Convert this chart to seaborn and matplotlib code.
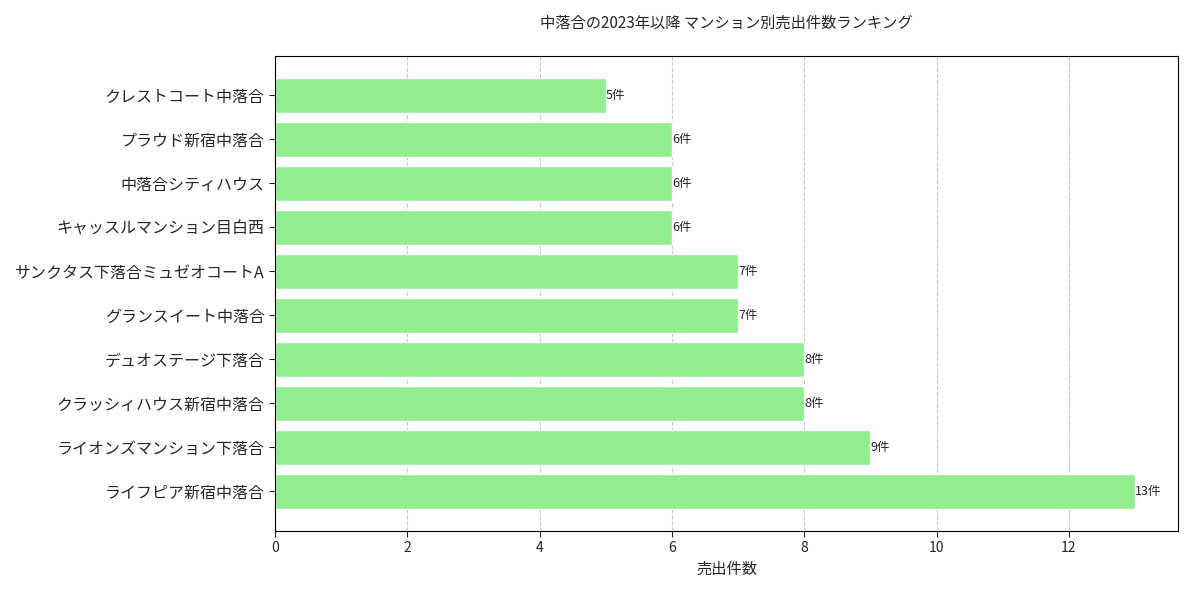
import matplotlib
matplotlib.use("Agg")
import matplotlib.pyplot as plt
import seaborn as sns
import pandas as pd

names = ["クレストコート中落合", "プラウド新宿中落合", "中落合シティハウス", "キャッスルマンション目白西",
         "サンクタス下落合ミュゼオコートA", "グランスイート中落合", "デュオステージ下落合",
         "クラッシィハウス新宿中落合", "ライオンズマンション下落合", "ライフピア新宿中落合"]
counts = [5, 6, 6, 6, 7, 7, 8, 8, 9, 13]

sns.set_style("white")
plt.rcParams['font.family'] = ['Noto Sans CJK JP', 'DejaVu Sans']

df = pd.DataFrame({"name": names, "count": counts})
fig, ax = plt.subplots(figsize=(11.93, 5.93), dpi=100)
sns.barplot(data=df, y="name", x="count", orient="h", color="#90EE90", saturation=1, width=0.8, ax=ax, zorder=2)
for i, v in enumerate(counts):
    ax.text(v, i, f"{v}件", va="center", ha="left", fontsize=9)
ax.grid(axis="x", linestyle="--", color="#b0b0b0", alpha=0.7, zorder=0)
ax.set_axisbelow(True)
ax.set_xlabel("売出件数", fontsize=11)
ax.set_ylabel("")
ax.set_title("中落合の2023年以降 マンション別売出件数ランキング", fontsize=11, pad=20)
ax.tick_params(axis="y", labelsize=11.5, left=True, length=4)
ax.tick_params(axis="x", labelsize=10, bottom=True, length=4)
for s in ax.spines.values():
    s.set_color("black"); s.set_linewidth(0.8)
ax.set_xlim(0, 13.65)
ax.set_ylim(9.9, -0.9)
plt.tight_layout()
fig.savefig("out.png", dpi=100)
